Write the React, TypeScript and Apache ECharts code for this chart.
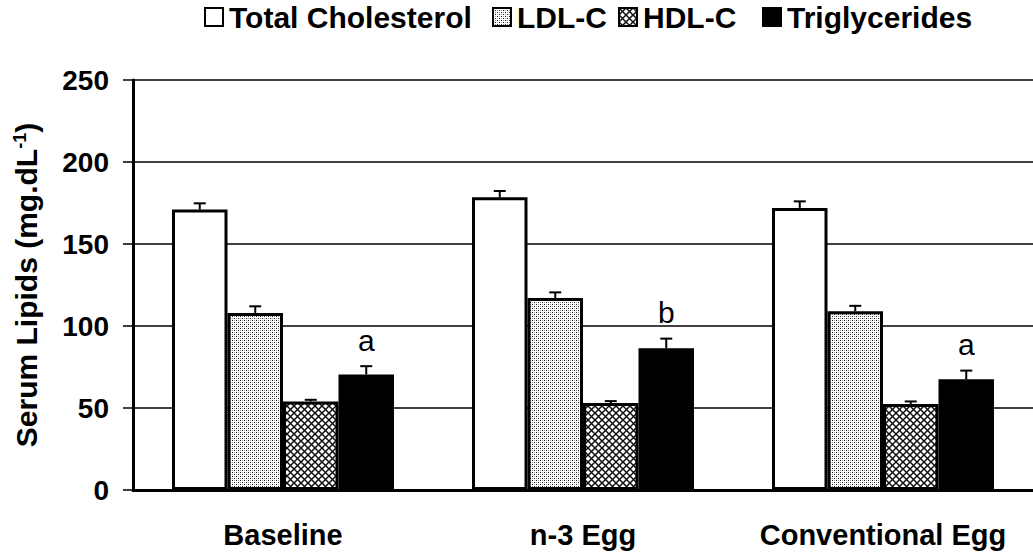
import React, { useEffect, useRef } from "react";
import * as echarts from "echarts";

const categories = ["Baseline", "n-3 Egg", "Conventional Egg"];
const seriesNames = ["Total Cholesterol", "LDL-C", "HDL-C", "Triglycerides"];
const totalChol = [171, 178.5, 172];
const totalCholErr = [3.8, 3.8, 4];
const ldl = [108, 117, 109];
const ldlErr = [4, 3.5, 3.3];
const hdl = [54, 53, 52.5];
const hdlErr = [1, 1.2, 1.5];
const tg = [70.5, 86.5, 67.5];
const tgErr = [5, 5.8, 5.3];
const tgLetters = ["a", "b", "a"];
const yTicks = [0, 50, 100, 150, 200, 250];

const FONT = "'Liberation Sans', Arial, Helvetica, sans-serif";
const GAP = 0.26;

function makeStipple() {
  const c = document.createElement("canvas");
  c.width = 4;
  c.height = 4;
  const ctx = c.getContext("2d")!;
  ctx.fillStyle = "#ffffff";
  ctx.fillRect(0, 0, 4, 4);
  ctx.fillStyle = "#222222";
  ctx.fillRect(0, 0, 1, 1);
  ctx.fillRect(2, 2, 1, 1);
  ctx.fillStyle = "#9a9a9a";
  ctx.fillRect(2, 0, 1, 1);
  ctx.fillRect(0, 2, 1, 1);
  return { image: c.toDataURL(), repeat: "repeat", imageWidth: 4, imageHeight: 4 };
}

function makeHatch() {
  const s = 7;
  const c = document.createElement("canvas");
  c.width = s;
  c.height = s;
  const ctx = c.getContext("2d")!;
  ctx.fillStyle = "#ffffff";
  ctx.fillRect(0, 0, s, s);
  ctx.strokeStyle = "#111111";
  ctx.lineWidth = 1.5;
  for (const off of [-s, 0, s]) {
    ctx.beginPath();
    ctx.moveTo(off, 0);
    ctx.lineTo(off + s, s);
    ctx.stroke();
    ctx.beginPath();
    ctx.moveTo(off + s, 0);
    ctx.lineTo(off, s);
    ctx.stroke();
  }
  return { image: c.toDataURL(), repeat: "repeat", imageWidth: s, imageHeight: s };
}

export default function App() {
  const ref = useRef<HTMLDivElement>(null);
  useEffect(() => {
    if (!ref.current) return;
    const chart = echarts.init(ref.current, undefined, { renderer: "svg" });
    const fills: any[] = ["#ffffff", makeStipple(), makeHatch(), "#000000"];
    const values = [totalChol, ldl, hdl, tg];
    const errs = [totalCholErr, ldlErr, hdlErr, tgErr];
    const errData: number[][] = [];
    values.forEach((arr, si) => {
      arr.forEach((v, ci) => errData.push([ci, v, errs[si][ci], si]));
    });
    const legendLefts = [204, 492, 618, 762];
    const legends = seriesNames.map((n, i) => ({
      data: [n],
      left: legendLefts[i],
      top: 2,
      padding: 0,
      itemWidth: 18,
      itemHeight: 18,
      itemGap: 0,
      icon: "rect",
      selectedMode: false,
      itemStyle: { borderColor: "#000", borderWidth: 2 },
      textStyle: { fontFamily: FONT, fontSize: 30, fontWeight: "bold", color: "#000", padding: [0, 0, 0, 1] },
    }));
    const option: any = {
      animation: false,
      backgroundColor: "#ffffff",
      legend: legends,
      grid: { left: 133, right: 0, top: 80, bottom: 66, containLabel: false },
      xAxis: {
        type: "category",
        data: categories,
        axisLine: { lineStyle: { color: "#000", width: 3 } },
        axisTick: { show: false },
        axisLabel: {
          interval: 0,
          hideOverlap: false,
          fontFamily: FONT,
          fontSize: 29,
          fontWeight: "bold",
          color: "#000",
          margin: 30,
        },
      },
      yAxis: {
        type: "value",
        min: yTicks[0],
        max: yTicks[yTicks.length - 1],
        interval: 50,
        name: "{t|Serum Lipids (mg.dL}{s|-1}{t|)}",
        nameLocation: "middle",
        nameRotate: 90,
        nameGap: 92,
        nameTextStyle: {
          rich: {
            t: { fontFamily: FONT, fontSize: 30, fontWeight: "bold", color: "#000" },
            s: { fontFamily: FONT, fontSize: 18, fontWeight: "bold", color: "#000", verticalAlign: "top" },
          },
        },
        axisLine: { show: true, lineStyle: { color: "#000", width: 3 } },
        axisTick: { show: true, length: 10, lineStyle: { color: "#000", width: 1.5 } },
        axisLabel: { fontFamily: FONT, fontSize: 28, fontWeight: "bold", color: "#000", margin: 24 },
        splitLine: { show: true, lineStyle: { color: "#000", width: 1.5 } },
      },
      series: [
        ...seriesNames.map((n, si) => ({
          name: n,
          type: "bar",
          data: values[si],
          barGap: "0%",
          barCategoryGap: GAP * 100 + "%",
          itemStyle: { color: fills[si], borderColor: "#000", borderWidth: 3 },
          z: 2,
        })),
        {
          type: "custom",
          data: errData,
          z: 5,
          encode: { x: 0, y: 1 },
          renderItem: (params: any, api: any) => {
            const ci = api.value(0);
            const v = api.value(1);
            const e = api.value(2);
            const si = api.value(3);
            const bandW = api.size([1, 0])[0];
            const barW = (bandW * (1 - GAP)) / 4;
            const base = api.coord([ci, v]);
            const x = base[0] + (si - 1.5) * barW;
            const yTop = api.coord([ci, v + e])[1];
            const children: any[] = [
              { type: "line", shape: { x1: x, y1: base[1], x2: x, y2: yTop }, style: { stroke: "#000", lineWidth: 2 } },
              { type: "line", shape: { x1: x - 6, y1: yTop, x2: x + 6, y2: yTop }, style: { stroke: "#000", lineWidth: 2 } },
            ];
            if (si === 3) {
              children.push({
                type: "text",
                x: x,
                y: yTop - 11,
                style: {
                  text: tgLetters[ci],
                  fontFamily: FONT,
                  fontSize: 30,
                  fill: "#000",
                  align: "center",
                  verticalAlign: "bottom",
                },
              });
            }
            return { type: "group", children };
          },
        },
      ],
    };
    chart.setOption(option);
    return () => chart.dispose();
  }, []);
  return <div ref={ref} style={{ position: "absolute", left: 0, top: 0, width: 1033, height: 556 }} />;
}
